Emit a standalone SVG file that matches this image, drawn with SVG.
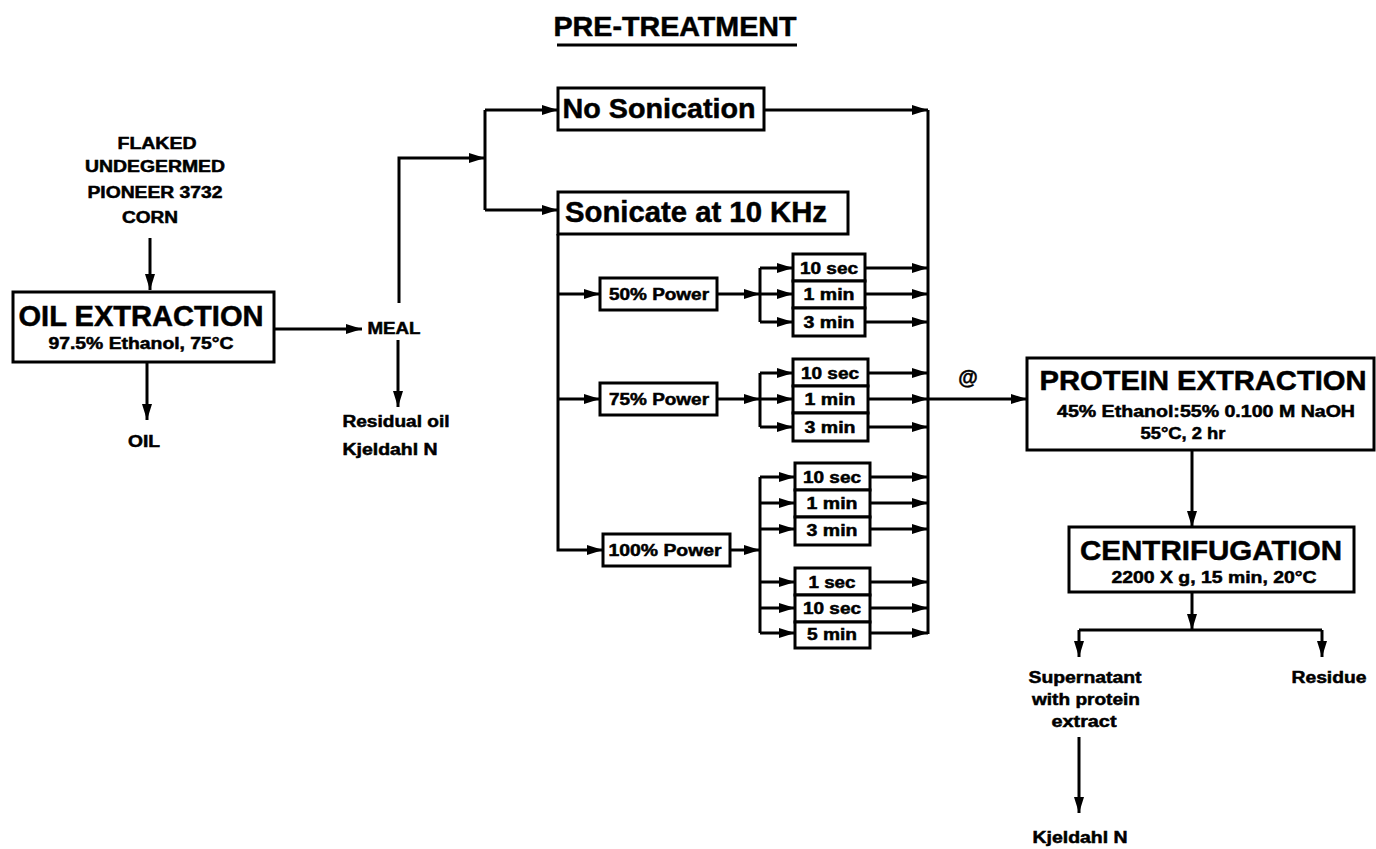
<svg xmlns="http://www.w3.org/2000/svg" width="1376" height="849" viewBox="0 0 1376 849">
<style>
text{font-family:"Liberation Sans",Arial,sans-serif;font-weight:bold;fill:#000;text-anchor:middle;stroke:#000;stroke-width:0.5}
.box{fill:#fff;stroke:#000;stroke-width:3}
.ln{fill:none;stroke:#000;stroke-width:3}
.big{font-size:28px}
.sub{font-size:16px}
.sm{font-size:16px}
.lab{font-size:16px}
</style>
<defs>
<marker id="ah" markerUnits="userSpaceOnUse" markerWidth="16" markerHeight="10" refX="16" refY="5" orient="auto">
<path d="M0,0 L16,5 L0,10 z" fill="#000"/>
</marker>
</defs>
<rect width="1376" height="849" fill="#fff"/>
<g id="title">
<text x="675" y="36" class="big" textLength="243" lengthAdjust="spacingAndGlyphs">PRE-TREATMENT</text>
<line x1="557" y1="45" x2="797" y2="45" class="ln"/>
</g>
<g id="connectors">
<line x1="150" y1="238" x2="150" y2="290" class="ln" marker-end="url(#ah)"/>
<line x1="147" y1="362" x2="147" y2="420" class="ln" marker-end="url(#ah)"/>
<line x1="274" y1="329" x2="362" y2="329" class="ln" marker-end="url(#ah)"/>
<polyline points="399,303 399,158 485,158" class="ln" marker-end="url(#ah)"/>
<line x1="485" y1="110" x2="485" y2="210" class="ln"/>
<line x1="485" y1="110" x2="558" y2="110" class="ln" marker-end="url(#ah)"/>
<line x1="485" y1="210" x2="558" y2="210" class="ln" marker-end="url(#ah)"/>
<line x1="398" y1="340" x2="398" y2="407" class="ln" marker-end="url(#ah)"/>
<line x1="764" y1="110" x2="928" y2="110" class="ln" marker-end="url(#ah)"/>
<polyline points="558,234 558,550 603,550" class="ln" marker-end="url(#ah)"/>
<line x1="558" y1="294" x2="600" y2="294" class="ln" marker-end="url(#ah)"/>
<line x1="558" y1="399" x2="600" y2="399" class="ln" marker-end="url(#ah)"/>
<line x1="717" y1="294" x2="760" y2="294" class="ln" marker-end="url(#ah)"/>
<line x1="760" y1="268" x2="760" y2="322" class="ln"/>
<line x1="760" y1="268" x2="793" y2="268" class="ln" marker-end="url(#ah)"/>
<line x1="760" y1="294" x2="793" y2="294" class="ln" marker-end="url(#ah)"/>
<line x1="760" y1="322" x2="793" y2="322" class="ln" marker-end="url(#ah)"/>
<line x1="865" y1="268" x2="928" y2="268" class="ln" marker-end="url(#ah)"/>
<line x1="865" y1="294" x2="928" y2="294" class="ln" marker-end="url(#ah)"/>
<line x1="865" y1="322" x2="928" y2="322" class="ln" marker-end="url(#ah)"/>
<line x1="717" y1="399" x2="760" y2="399" class="ln" marker-end="url(#ah)"/>
<line x1="760" y1="373" x2="760" y2="427" class="ln"/>
<line x1="760" y1="373" x2="793" y2="373" class="ln" marker-end="url(#ah)"/>
<line x1="760" y1="399" x2="793" y2="399" class="ln" marker-end="url(#ah)"/>
<line x1="760" y1="427" x2="793" y2="427" class="ln" marker-end="url(#ah)"/>
<line x1="868" y1="373" x2="928" y2="373" class="ln" marker-end="url(#ah)"/>
<line x1="868" y1="399" x2="928" y2="399" class="ln" marker-end="url(#ah)"/>
<line x1="868" y1="427" x2="928" y2="427" class="ln" marker-end="url(#ah)"/>
<line x1="730" y1="550" x2="760" y2="550" class="ln" marker-end="url(#ah)"/>
<line x1="760" y1="477" x2="760" y2="633" class="ln"/>
<line x1="760" y1="477" x2="795" y2="477" class="ln" marker-end="url(#ah)"/>
<line x1="760" y1="503" x2="795" y2="503" class="ln" marker-end="url(#ah)"/>
<line x1="760" y1="529" x2="795" y2="529" class="ln" marker-end="url(#ah)"/>
<line x1="760" y1="582" x2="795" y2="582" class="ln" marker-end="url(#ah)"/>
<line x1="760" y1="608" x2="795" y2="608" class="ln" marker-end="url(#ah)"/>
<line x1="760" y1="633" x2="795" y2="633" class="ln" marker-end="url(#ah)"/>
<line x1="870" y1="477" x2="928" y2="477" class="ln" marker-end="url(#ah)"/>
<line x1="870" y1="503" x2="928" y2="503" class="ln" marker-end="url(#ah)"/>
<line x1="870" y1="529" x2="928" y2="529" class="ln" marker-end="url(#ah)"/>
<line x1="870" y1="582" x2="928" y2="582" class="ln" marker-end="url(#ah)"/>
<line x1="870" y1="608" x2="928" y2="608" class="ln" marker-end="url(#ah)"/>
<line x1="870" y1="633" x2="928" y2="633" class="ln" marker-end="url(#ah)"/>
<line x1="928" y1="110" x2="928" y2="634" class="ln"/>
<line x1="928" y1="399" x2="1027" y2="399" class="ln" marker-end="url(#ah)"/>
<line x1="1192" y1="450" x2="1192" y2="527" class="ln" marker-end="url(#ah)"/>
<line x1="1192" y1="592" x2="1192" y2="630" class="ln" marker-end="url(#ah)"/>
<line x1="1079" y1="630" x2="1322" y2="630" class="ln"/>
<line x1="1079" y1="630" x2="1079" y2="657" class="ln" marker-end="url(#ah)"/>
<line x1="1322" y1="630" x2="1322" y2="657" class="ln" marker-end="url(#ah)"/>
<line x1="1079" y1="737" x2="1079" y2="813" class="ln" marker-end="url(#ah)"/>
</g>
<g id="corn">
<text x="157" y="149" class="lab" textLength="79" lengthAdjust="spacingAndGlyphs">FLAKED</text>
<text x="155" y="172" class="lab" textLength="140" lengthAdjust="spacingAndGlyphs">UNDEGERMED</text>
<text x="155" y="198" class="lab" textLength="135" lengthAdjust="spacingAndGlyphs">PIONEER 3732</text>
<text x="150" y="223" class="lab" textLength="56" lengthAdjust="spacingAndGlyphs">CORN</text>
</g>
<g id="oil-extraction">
<rect x="13" y="292" width="261" height="70" class="box"/>
<text x="141" y="326" style="font-size:29px" textLength="245" lengthAdjust="spacingAndGlyphs">OIL EXTRACTION</text>
<text x="141" y="349" class="sub" textLength="185" lengthAdjust="spacingAndGlyphs">97.5% Ethanol, 75°C</text>
</g>
<g id="oil"><text x="144" y="447" class="lab" textLength="32" lengthAdjust="spacingAndGlyphs">OIL</text></g>
<g id="meal"><text x="394" y="334" class="lab" textLength="53" lengthAdjust="spacingAndGlyphs">MEAL</text></g>
<g id="residual">
<text x="396" y="427" class="lab" textLength="107" lengthAdjust="spacingAndGlyphs">Residual oil</text>
<text x="390" y="455" class="lab" textLength="95" lengthAdjust="spacingAndGlyphs">Kjeldahl N</text>
</g>
<g id="no-sonication">
<rect x="558" y="88" width="206" height="42" class="box"/>
<text x="659" y="118" class="big" textLength="193" lengthAdjust="spacingAndGlyphs">No Sonication</text>
</g>
<g id="sonicate">
<rect x="558" y="192" width="290" height="42" class="box"/>
<text x="696" y="222" style="font-size:29px" textLength="262" lengthAdjust="spacingAndGlyphs">Sonicate at 10 KHz</text>
</g>
<g id="p50">
<rect x="600" y="278" width="117" height="32" class="box"/>
<text x="659" y="300" class="sm" textLength="100" lengthAdjust="spacingAndGlyphs">50% Power</text>
</g>
<g id="p75">
<rect x="600" y="383" width="117" height="32" class="box"/>
<text x="659" y="405" class="sm" textLength="100" lengthAdjust="spacingAndGlyphs">75% Power</text>
</g>
<g id="p100">
<rect x="603" y="534" width="127" height="32" class="box"/>
<text x="665" y="556" class="sm" textLength="113" lengthAdjust="spacingAndGlyphs">100% Power</text>
</g>
<g id="t50a"><rect x="793" y="254" width="72" height="27" class="box"/><text x="829" y="274" class="sm" textLength="58" lengthAdjust="spacingAndGlyphs">10 sec</text></g>
<g id="t50b"><rect x="793" y="281" width="72" height="27" class="box"/><text x="829" y="300" class="sm" textLength="51" lengthAdjust="spacingAndGlyphs">1 min</text></g>
<g id="t50c"><rect x="793" y="308" width="72" height="28" class="box"/><text x="829" y="328" class="sm" textLength="51" lengthAdjust="spacingAndGlyphs">3 min</text></g>
<g id="t75a"><rect x="793" y="359" width="75" height="27" class="box"/><text x="830" y="379" class="sm" textLength="58" lengthAdjust="spacingAndGlyphs">10 sec</text></g>
<g id="t75b"><rect x="793" y="386" width="75" height="27" class="box"/><text x="830" y="405" class="sm" textLength="51" lengthAdjust="spacingAndGlyphs">1 min</text></g>
<g id="t75c"><rect x="793" y="413" width="75" height="28" class="box"/><text x="830" y="433" class="sm" textLength="51" lengthAdjust="spacingAndGlyphs">3 min</text></g>
<g id="t100a"><rect x="795" y="463" width="75" height="27" class="box"/><text x="832" y="483" class="sm" textLength="58" lengthAdjust="spacingAndGlyphs">10 sec</text></g>
<g id="t100b"><rect x="795" y="490" width="75" height="27" class="box"/><text x="832" y="509" class="sm" textLength="51" lengthAdjust="spacingAndGlyphs">1 min</text></g>
<g id="t100c"><rect x="795" y="517" width="75" height="28" class="box"/><text x="832" y="536" class="sm" textLength="51" lengthAdjust="spacingAndGlyphs">3 min</text></g>
<g id="t100d"><rect x="795" y="568" width="75" height="27" class="box"/><text x="832" y="588" class="sm" textLength="47" lengthAdjust="spacingAndGlyphs">1 sec</text></g>
<g id="t100e"><rect x="795" y="595" width="75" height="27" class="box"/><text x="832" y="614" class="sm" textLength="58" lengthAdjust="spacingAndGlyphs">10 sec</text></g>
<g id="t100f"><rect x="795" y="622" width="75" height="26" class="box"/><text x="832" y="640" class="sm" textLength="50" lengthAdjust="spacingAndGlyphs">5 min</text></g>
<g id="at"><text x="968" y="384" style="font-size:20px">@</text></g>
<g id="protein-extraction">
<rect x="1027" y="358" width="347" height="92" class="box"/>
<text x="1203" y="390" class="big" textLength="327" lengthAdjust="spacingAndGlyphs">PROTEIN EXTRACTION</text>
<text x="1206" y="417" class="sub" textLength="298" lengthAdjust="spacingAndGlyphs">45% Ethanol:55% 0.100 M NaOH</text>
<text x="1183" y="439" class="sub" textLength="85" lengthAdjust="spacingAndGlyphs">55°C, 2 hr</text>
</g>
<g id="centrifugation">
<rect x="1069" y="527" width="285" height="65" class="box"/>
<text x="1211" y="560" class="big" textLength="262" lengthAdjust="spacingAndGlyphs">CENTRIFUGATION</text>
<text x="1214" y="583" class="sub" textLength="205" lengthAdjust="spacingAndGlyphs">2200 X g, 15 min, 20°C</text>
</g>
<g id="supernatant">
<text x="1085" y="683" class="lab" textLength="113" lengthAdjust="spacingAndGlyphs">Supernatant</text>
<text x="1086" y="705" class="lab" textLength="108" lengthAdjust="spacingAndGlyphs">with protein</text>
<text x="1084" y="727" class="lab" textLength="65" lengthAdjust="spacingAndGlyphs">extract</text>
</g>
<g id="residue"><text x="1329" y="683" class="lab" textLength="75" lengthAdjust="spacingAndGlyphs">Residue</text></g>
<g id="kjeldahl2"><text x="1080" y="843" class="lab" textLength="95" lengthAdjust="spacingAndGlyphs">Kjeldahl N</text></g>
</svg>
